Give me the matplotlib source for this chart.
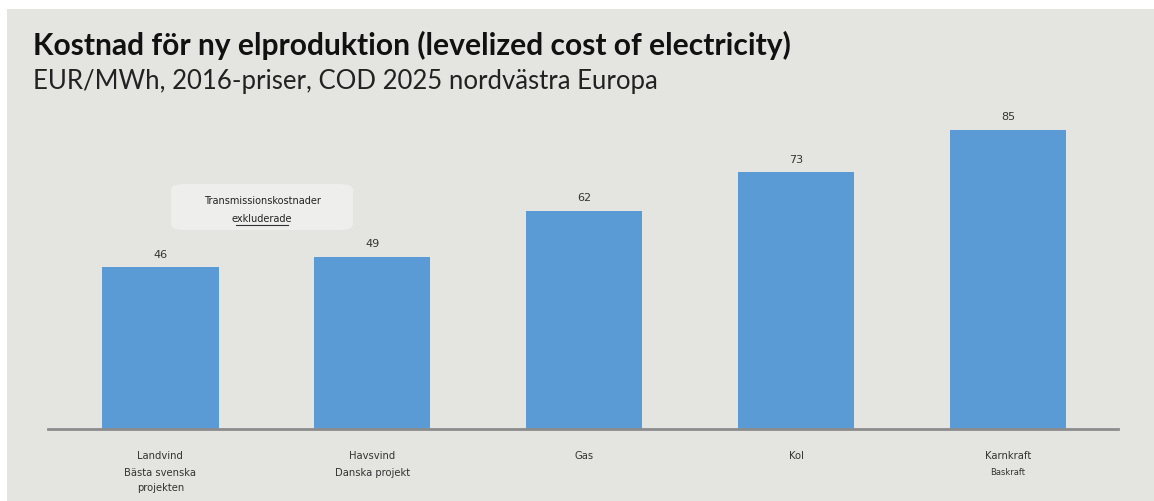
import matplotlib
matplotlib.use("Agg")
import matplotlib.pyplot as plt
from matplotlib.patches import Rectangle, FancyBboxPatch

categories = ["Landvind", "Havsvind", "Gas", "Kol", "Karnkraft"]
subtitles = ["Bästa svenska\nprojekten", "Danska projekt", "", "", "Baskraft"]
values = [46, 49, 62, 73, 85]

W, H = 1154, 502
fig = plt.figure(figsize=(W / 100, H / 100), dpi=100)
fig.patch.set_facecolor("white")
bg = "#e4e4e0"
fig.add_artist(Rectangle((7 / W, 0), 1, 1 - 10 / H, transform=fig.transFigure,
                         facecolor=bg, edgecolor="none", zorder=0))

font = ["Lato", "DejaVu Sans"]
fig.text(33 / W, 1 - 45 / H, "Kostnad för ny elproduktion (levelized cost of electricity)",
         fontsize=21.6, fontweight="bold", family=font, color="#111111", va="center")
fig.text(33 / W, 1 - 81 / H, "EUR/MWh, 2016-priser, COD 2025 nordvästra Europa",
         fontsize=18.5, family=font, color="#222222", va="center")

ax = fig.add_axes([48 / W, (H - 430) / H, 1070 / W, 330 / H])
ax.set_facecolor("none")
x = list(range(len(categories)))
bars = ax.bar(x, values, width=0.55, color="#5b9bd5", zorder=2)
ax.set_xlim(-0.53, 4.52)
ax.set_ylim(0, 330 / 3.52)
for s in ["top", "right", "left"]:
    ax.spines[s].set_visible(False)
ax.spines["bottom"].set_color("#8c8c8c")
ax.spines["bottom"].set_linewidth(2)
ax.set_yticks([])
ax.set_xticks([])

for xi, v in zip(x, values):
    ax.annotate(str(v), (xi, v), xytext=(0, 6), textcoords="offset points",
                ha="center", va="bottom", fontsize=8, color="#333333", family="DejaVu Sans")

for xi, c, s in zip(x, categories, subtitles):
    ax.annotate(c, (xi, 0), xytext=(0, -18.5), textcoords="offset points",
                ha="center", va="center", fontsize=7.2, color="#333333", family="DejaVu Sans")
    if s:
        small = 6 if c == "Karnkraft" else 7.2
        ax.annotate(s, (xi, 0), xytext=(0, -27.5), textcoords="offset points",
                    ha="center", va="top", fontsize=small, color="#333333",
                    family="DejaVu Sans", linespacing=1.65)

# annotation box
box = FancyBboxPatch((171 / W, 1 - 231 / H), 182 / W, 46 / H,
                     boxstyle="round,pad=0,rounding_size=0.012",
                     transform=fig.transFigure, facecolor="#eeeeec", edgecolor="none", zorder=1)
fig.add_artist(box)
fig.text(262 / W, 1 - 201 / H, "Transmissionskostnader", fontsize=7, ha="center",
         va="center", color="#222222", family="DejaVu Sans")
fig.text(262 / W, 1 - 219 / H, "exkluderade", fontsize=7, ha="center",
         va="center", color="#222222", family="DejaVu Sans")
fig.add_artist(plt.Line2D([236 / W, 288 / W], [1 - 226 / H, 1 - 226 / H],
                          transform=fig.transFigure, color="#333333", lw=0.8))

fig.savefig("out.png", dpi=100, facecolor=fig.get_facecolor())
